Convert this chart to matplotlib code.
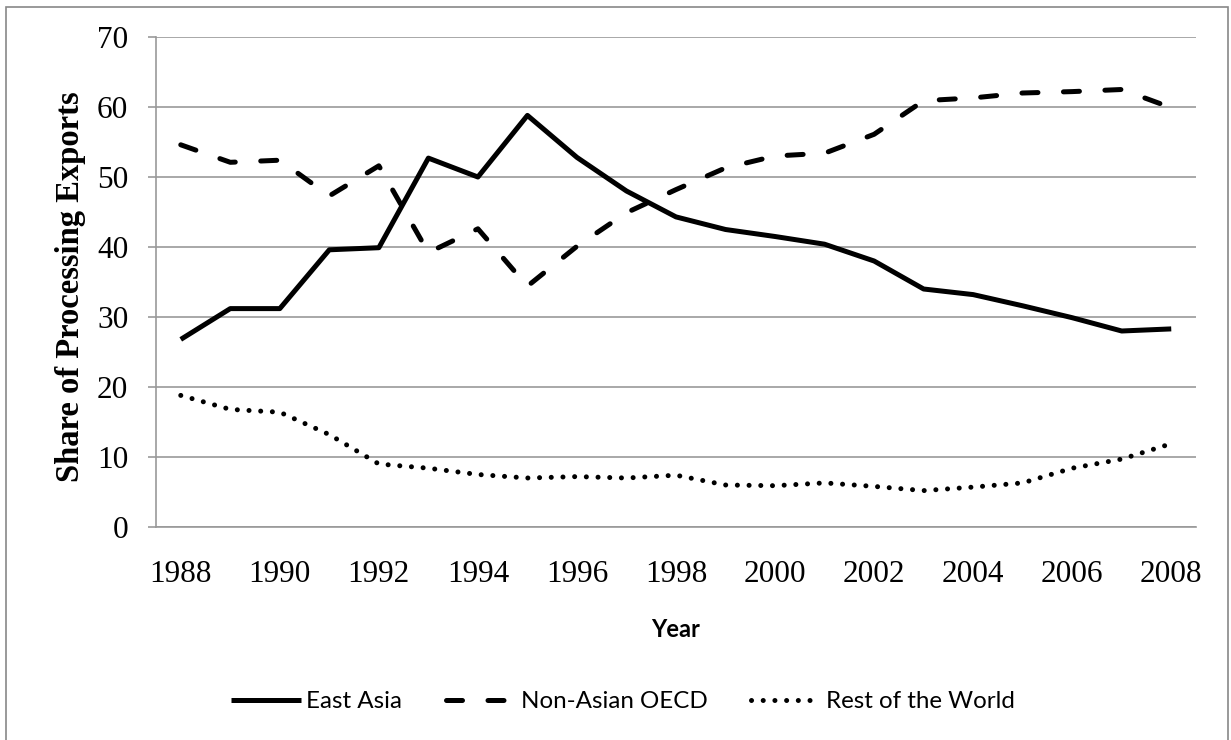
import matplotlib
matplotlib.use('Agg')
import matplotlib.pyplot as plt
from matplotlib.patches import Rectangle

years = list(range(1988, 2009))
east_asia = [26.8, 31.2, 31.2, 39.6, 39.9, 52.7, 50.0, 58.8, 52.8, 48.0, 44.3,
             42.5, 41.5, 40.4, 38.0, 34.0, 33.2, 31.6, 29.9, 28.0, 28.3]
non_asian_oecd = [54.6, 52.1, 52.4, 47.3, 51.6, 39.2, 42.6, 34.4, 40.1, 44.9, 48.2,
                  51.3, 53.0, 53.4, 56.1, 60.9, 61.3, 62.0, 62.2, 62.5, 59.9]
rest_of_world = [18.8, 16.8, 16.4, 13.2, 9.0, 8.4, 7.5, 7.0, 7.2, 7.0, 7.4,
                 6.0, 5.9, 6.3, 5.8, 5.2, 5.7, 6.3, 8.4, 9.7, 11.9]

W, H = 1231, 740
fig = plt.figure(figsize=(W / 100, H / 100), dpi=100)
ax = fig.add_axes([156 / W, 1 - 527 / H, 1040 / W, 490 / H])

grid_c = '#999999'
lw = 3.6

ax.plot(years, east_asia, color='black', lw=lw, solid_capstyle='butt',
        label='East Asia')
ax.plot(years, non_asian_oecd, color='black', lw=lw, dashes=(3.2, 5.1),
        dash_capstyle='round', label='Non-Asian OECD')
ax.plot(years, rest_of_world, color='black', lw=3.6, dashes=(0.01, 2.33),
        dash_capstyle='round', label='Rest of the World')

ax.set_xlim(1987.5, 2008.5)
ax.set_ylim(0, 70)
ax.set_yticks(range(0, 71, 10))
ax.set_xticks(years[::2])
ax.set_xticklabels([str(y) for y in years[::2]])

ax.yaxis.grid(True, color=grid_c, lw=1.2)
ax.set_axisbelow(True)
for s in ['top', 'right']:
    ax.spines[s].set_visible(False)
for s in ['left', 'bottom']:
    ax.spines[s].set_color(grid_c)
    ax.spines[s].set_linewidth(1.2)

ax.tick_params(axis='y', direction='out', length=6, width=1.2, color=grid_c,
               pad=14, labelsize=22.5)
ax.tick_params(axis='x', length=0, pad=24, labelsize=22.5)
for t in ax.get_xticklabels() + ax.get_yticklabels():
    t.set_fontfamily('Liberation Serif')

ax.set_ylabel('Share of Processing Exports', fontfamily='Liberation Serif',
              fontweight='bold', fontsize=23.5, va='center')
ax.yaxis.set_label_coords(-0.082, 0.491)
ax.set_xlabel('Year', fontfamily='Lato', fontweight='bold', fontsize=17,
              va='center')
ax.xaxis.set_label_coords(0.5, -0.2086)

fig.legend(loc='center', bbox_to_anchor=(623 / W, 1 - 702 / H), ncol=3,
           frameon=False, prop={'family': 'Lato', 'size': 17.4},
           handlelength=2.9, handletextpad=0.2, columnspacing=1.8)

fig.patches.append(Rectangle((6 / W, -0.1), 1222 / W, 1.1 - 7 / H,
                             transform=fig.transFigure, fill=False,
                             edgecolor='#888888', lw=1.2))

fig.savefig('out.png', dpi=100)
